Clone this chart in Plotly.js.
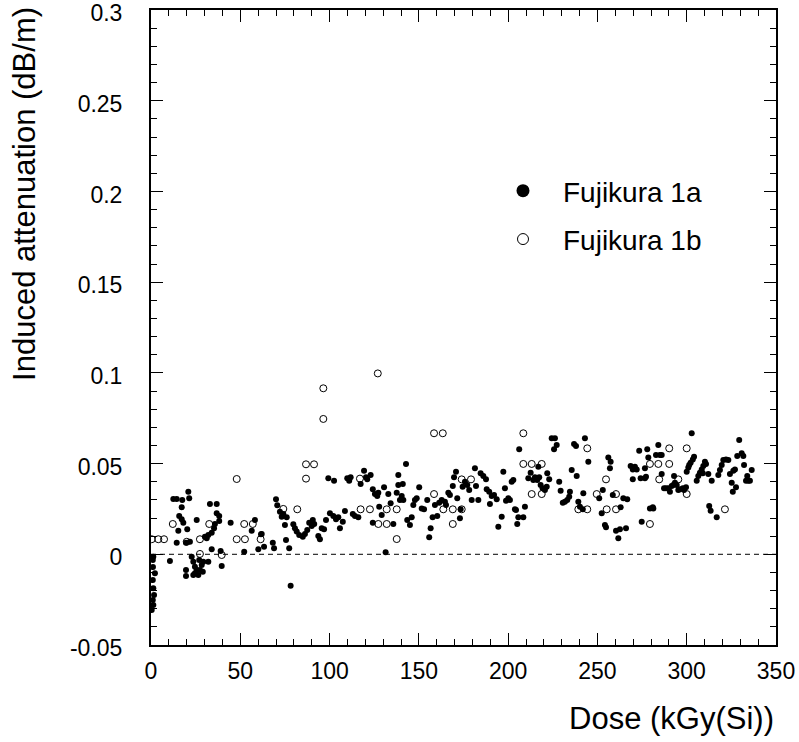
<!DOCTYPE html>
<html><head><meta charset="utf-8">
<script src="https://cdn.plot.ly/plotly-3.0.1.min.js"></script>
<style>body{margin:0;background:#fff}#chart{width:799px;height:742px}</style>
</head><body><div id="chart"></div>
<script>
// Fujikura 1a (filled markers)
const doseA = [12.5,14.4,17.5,20.9,21.4,17.2,15.8,17.2,18.1,15.3,20.3,25.6,14.4,19.6,21.8,10.6,22.8,23.7,24.6,25.6,24.6,27.4,28.4,29.3,32.1,27.0,19.6,19.6,23.7,26.5,29.0,39.6,33.0,36.8,36.8,38.2,38.2,35.8,35.3,34.0,32.1,31.2,30.2,34.0,39.0,44.6,58.2,56.4,61.6,60.1,63.3,52.2,1.3,2.2,1.0,1.3,1.7,1.0,1.3,0.4,1.0,1.1,
70.0,70.7,72.2,74.1,73.2,76.0,75.0,79.7,80.6,81.6,83.0,85.0,86.2,87.5,88.6,90.6,91.4,90.0,93.7,94.6,95.6,96.9,98.0,100.2,102.1,103.6,104.9,105.8,107.4,108.6,113.0,114.2,116.1,99.3,102.5,109.9,111.0,111.8,117.4,119.3,120.4,123.0,121.1,124.2,125.4,126.7,127.3,130.5,132.9,124.2,127.8,129.2,131.4,78.2,62.0,68.2,68.9,75.6,77.4,
134.2,135.7,137.6,138.5,138.5,141.0,140.4,139.4,141.3,142.8,143.5,145.0,146.0,146.9,147.8,148.8,150.2,151.6,152.9,154.7,155.8,156.6,157.7,159.0,160.3,161.4,162.8,164.6,165.2,166.5,167.4,169.0,169.7,170.8,171.5,173.0,173.4,174.5,175.8,177.1,178.2,179.6,181.4,182.0,183.3,184.6,186.1,187.6,188.0,189.4,190.8,189.8,192.1,193.6,194.5,196.4,197.3,198.2,198.8,200.1,201.0,202.0,202.9,203.8,205.7,206.2,205.1,
204.4,208.5,209.4,211.3,212.6,214.1,215.0,216.3,217.4,218.2,219.3,220.6,221.6,221.9,223.0,216.9,224.4,226.2,227.2,225.7,228.6,229.4,230.6,231.8,233.1,234.2,234.6,235.6,236.9,238.0,238.4,239.3,240.2,241.8,242.1,243.0,244.9,251.0,253.0,252.4,254.2,254.8,256.1,257.4,257.0,258.6,260.4,261.7,262.6,263.0,264.5,266.0,266.7,268.6,269.8,269.8,271.0,272.0,273.4,274.2,274.8,276.6,276.6,277.9,278.5,279.4,
284.1,282.8,285.0,286.0,277.2,286.0,287.3,288.4,289.7,290.6,291.6,292.5,293.4,294.4,292.9,295.3,296.2,297.8,298.5,299.6,300.0,301.4,302.2,303.4,304.1,302.8,300.9,305.6,306.5,307.4,308.4,309.3,310.2,310.8,309.0,312.1,314.0,312.6,313.4,316.8,317.7,318.6,319.6,320.5,322.0,323.3,324.2,325.2,326.1,327.0,327.6,325.8,328.3,329.4,330.8,331.7,332.1,333.2,333.9,334.5,335.4,336.4,281.0,281.3];
const attA = [0.0305,0.0305,0.0299,0.0345,0.0309,0.0259,0.0211,0.0193,0.0174,0.0130,0.0138,0.0189,0.0064,0.0064,0.0069,-0.0037,-0.0013,-0.0041,-0.0068,-0.0087,-0.0105,-0.0087,-0.0059,-0.0041,-0.0041,-0.0031,-0.0087,-0.0120,-0.0114,-0.0114,-0.0096,-0.0064,0.0277,0.0277,0.0226,0.0211,0.0183,0.0167,0.0143,0.0119,0.0106,0.0088,0.0097,0.0028,0.0018,0.0174,0.0189,0.0130,0.0110,0.0028,0.0042,0.0014,-0.0013,-0.0105,-0.0142,-0.0187,-0.0224,-0.0252,-0.0280,-0.0307,-0.0031,-0.0070,
0.0303,0.0270,0.0235,0.0222,0.0207,0.0204,0.0161,0.0165,0.0143,0.0125,0.0106,0.0097,0.0112,0.0134,0.0174,0.0189,0.0167,0.0156,0.0101,0.0083,0.0143,0.0138,0.0189,0.0226,0.0211,0.0193,0.0204,0.0143,0.0180,0.0239,0.0222,0.0211,0.0204,0.0419,0.0406,0.0419,0.0406,0.0424,0.0387,0.0461,0.0424,0.0437,0.0413,0.0358,0.0332,0.0321,0.0339,0.0369,0.0332,0.0174,0.0262,0.0217,0.0011,-0.0173,0.0112,0.0064,0.0033,0.0079,0.0033,
0.0281,0.0167,0.0339,0.0382,0.0437,0.0387,0.0321,0.0299,0.0299,0.0498,0.0189,0.0161,0.0204,0.0272,0.0299,0.0309,0.0369,0.0253,0.0248,0.0299,0.0094,0.0143,0.0204,0.0272,0.0211,0.0284,0.0299,0.0290,0.0272,0.0339,0.0327,0.0376,0.0424,0.0455,0.0309,0.0198,0.0248,0.0372,0.0400,0.0382,0.0354,0.0299,0.0474,0.0376,0.0299,0.0446,0.0431,0.0413,0.0358,0.0345,0.0321,0.0277,0.0327,0.0303,0.0152,0.0207,0.0455,0.0364,0.0295,0.0309,0.0299,0.0400,0.0409,0.0248,0.0204,0.0579,0.0167,
0.0244,0.0204,0.0262,0.0419,0.0450,0.0409,0.0424,0.0409,0.0424,0.0382,0.0364,0.0354,0.0372,0.0446,0.0413,0.0483,0.0639,0.0639,0.0602,0.0579,0.0400,0.0350,0.0284,0.0290,0.0299,0.0317,0.0345,0.0464,0.0608,0.0597,0.0431,0.0290,0.0262,0.0248,0.0336,0.0639,0.0510,0.0309,0.0354,0.0226,0.0161,0.0149,0.0534,0.0510,0.0474,0.0327,0.0130,0.0088,0.0138,0.0259,0.0309,0.0143,0.0303,0.0487,0.0468,0.0413,0.0483,0.0468,0.0571,0.0419,0.0180,0.0419,0.0474,0.0579,0.0534,0.0253,
0.0602,0.0547,0.0547,0.0547,0.0428,0.0442,0.0364,0.0364,0.0364,0.0345,0.0376,0.0382,0.0395,0.0382,0.0431,0.0354,0.0358,0.0364,0.0354,0.0369,0.0455,0.0492,0.0505,0.0523,0.0538,0.0667,0.0479,0.0406,0.0431,0.0450,0.0468,0.0487,0.0510,0.0498,0.0446,0.0442,0.0406,0.0266,0.0240,0.0204,0.0437,0.0464,0.0492,0.0520,0.0523,0.0520,0.0442,0.0395,0.0461,0.0468,0.0369,0.0345,0.0542,0.0630,0.0557,0.0542,0.0492,0.0406,0.0431,0.0406,0.0406,0.0464,0.0259,0.0253];

// Fujikura 1b (open markers)
const doseB = [0.4,4.1,7.3,12.2,20.0,27.4,32.6,27.4,39.6,48.0,52.6,52.2,57.0,61.4,48.0,127.0,96.5,96.5,86.8,91.3,86.8,117.0,74.1,81.9,117.4,122.6,132.0,127.3,132.0,158.5,163.4,137.6,137.6,158.5,163.7,169.0,169.0,174.0,174.0,179.2,208.5,208.5,213.2,218.8,213.2,218.8,244.3,254.8,249.6,260.4,239.3,244.3,255.2,260.4,279.4,279.4,284.1,290.2,290.2,300.0,284.6,295.3,300.0,321.4];
const attB = [0.0083,0.0083,0.0083,0.0167,0.0069,0.0083,0.0167,0.0002,-0.0004,0.0083,0.0083,0.0167,0.0167,0.0083,0.0415,0.0997,0.0915,0.0746,0.0496,0.0496,0.0417,0.0417,0.0250,0.0248,0.0248,0.0248,0.0248,0.0167,0.0167,0.0667,0.0667,0.0248,0.0084,0.0332,0.0248,0.0248,0.0167,0.0248,0.0413,0.0413,0.0667,0.0498,0.0498,0.0498,0.0332,0.0332,0.0584,0.0413,0.0332,0.0332,0.0248,0.0248,0.0248,0.0248,0.0498,0.0167,0.0498,0.0498,0.0584,0.0584,0.0413,0.0413,0.0332,0.0248];

const seriesNames = ['Fujikura 1a', 'Fujikura 1b'];
const yTickVals = [-0.05, 0, 0.05, 0.1, 0.15, 0.2, 0.25, 0.3];
const yTickText = ['-0.05', '0', '0.05', '0.1', '0.15', '0.2', '0.25', '0.3'];
const xTitle = 'Dose (kGy(Si))';
const yTitle = 'Induced attenuation (dB/m)';

const FONT = 'Liberation Sans, Arial, Helvetica, sans-serif';

const traces = [
  {type:'scatter', mode:'markers', x:doseA, y:attA, showlegend:false, hoverinfo:'skip',
   marker:{symbol:'circle', size:6, color:'black'}},
  {type:'scatter', mode:'markers', x:doseB, y:attB, showlegend:false, hoverinfo:'skip',
   marker:{symbol:'circle-open', size:7, color:'black', line:{width:1, color:'black'}}},
  {type:'scatter', mode:'markers', x:[null], y:[null], name:seriesNames[0], legendgroup:'a',
   marker:{symbol:'circle', size:13, color:'black'}},
  {type:'scatter', mode:'markers', x:[null], y:[null], name:seriesNames[1], legendgroup:'b',
   marker:{symbol:'circle-open', size:11, color:'black', line:{width:1, color:'black'}}}
];

const axisCommon = {
  showline:true, linewidth:2, linecolor:'black', mirror:'allticks',
  ticks:'inside', tickcolor:'black', tickwidth:1, ticklen:12,
  showgrid:false, zeroline:false, tickfont:{family:FONT, size:23, color:'black'},
  ticklabeloverflow:'allow'
};

const layout = {
  width:799, height:742,
  margin:{l:151, r:23, t:10, b:97},
  paper_bgcolor:'white', plot_bgcolor:'white',
  font:{family:FONT, color:'black'},
  xaxis:Object.assign({}, axisCommon, {
    range:[0,350], tickmode:'linear', tick0:0, dtick:50, ticklabelstandoff:4,
    minor:{tickmode:'linear', tick0:0, dtick:10, ticks:'inside', ticklen:6, tickcolor:'black', tickwidth:1, showgrid:false}
  }),
  yaxis:Object.assign({}, axisCommon, {
    range:[-0.05,0.30001], tickmode:'array', tickvals:yTickVals, ticktext:yTickText,
    ticklabelstandoff:22, ticklabelshift:3,
    minor:{tickmode:'linear', tick0:0, dtick:0.01, ticks:'inside', ticklen:6, tickcolor:'black', tickwidth:1, showgrid:false}
  }),
  shapes:[{type:'line', xref:'paper', x0:0, x1:1, yref:'y', y0:0, y1:0,
           line:{color:'black', width:1, dash:'5px,4px'}}],
  annotations:[
    {text:xTitle, xref:'paper', yref:'paper', x:1, y:-0.115, xanchor:'right', yanchor:'middle',
     showarrow:false, font:{family:FONT, size:31, color:'black'}},
    {text:yTitle, xref:'paper', yref:'paper', x:-0.2016, y:1.008, xanchor:'center', yanchor:'top',
     textangle:-90, showarrow:false, font:{family:FONT, size:31, color:'black'}}
  ],
  legend:{x:0.5312, y:0.7544, xanchor:'left', yanchor:'top', bgcolor:'rgba(0,0,0,0)', itemwidth:70,
          font:{family:FONT, size:28, color:'black'}, traceorder:'grouped', tracegroupgap:9}
};

Plotly.newPlot('chart', traces, layout, {staticPlot:true, displayModeBar:false});
</script>
</body></html>
